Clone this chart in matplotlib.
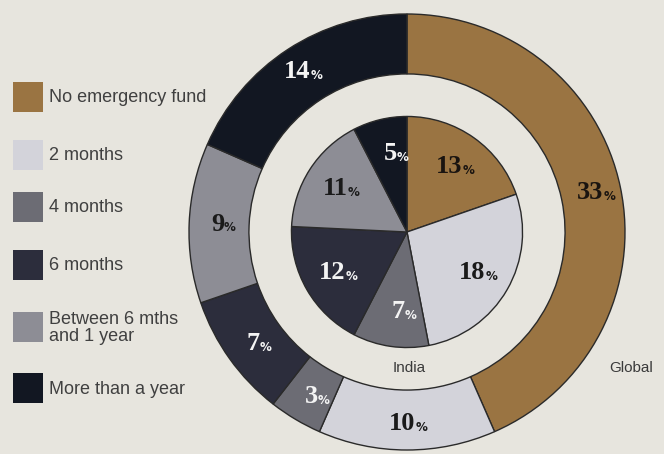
import matplotlib
matplotlib.use("Agg")
import matplotlib.pyplot as plt
import numpy as np
from matplotlib.patches import Rectangle

categories = ["No emergency fund", "2 months", "4 months", "6 months",
              "Between 6 mths\nand 1 year", "More than a year"]
global_vals = [33, 10, 3, 7, 9, 14]
india_vals = [13, 18, 7, 12, 11, 5]
colors = ["#9a7442", "#d3d3da", "#6c6c74", "#2c2d3c", "#8d8d95", "#121722"]
global_txt = ["#1a1410", "#1a1a1a", "#f4f4f4", "#f4f4f4", "#1a1a1a", "#f4f4f4"]
india_txt = ["#1a1410", "#1a1a1a", "#f4f4f4", "#f4f4f4", "#1a1a1a", "#f4f4f4"]

BG = "#e7e5de"
fig = plt.figure(figsize=(6.64, 4.54), dpi=100, facecolor=BG)
ax = fig.add_axes([0, 0, 1, 1])
ax.set_facecolor(BG)
R = 218.0

edge = dict(edgecolor="#2a2a2a", linewidth=1.0)
wo, _ = ax.pie(global_vals, colors=colors, radius=1.0, startangle=90,
               counterclock=False, wedgeprops=dict(width=0.275, **edge))
wi, _ = ax.pie(india_vals, colors=colors, radius=0.53, startangle=90,
               counterclock=False, wedgeprops=edge)
ax.set_aspect("auto")
ax.set_xlim(-407 / R, (664 - 407) / R)
ax.set_ylim(-(454 - 232) / R, 232 / R)
ax.axis("off")


def put_label(w, r, val, col, fs):
    ang = np.deg2rad((w.theta1 + w.theta2) / 2)
    x, y = r * np.cos(ang), r * np.sin(ang)
    ax.text(x + 0.04, y, f"{val}", ha="right", va="center", fontsize=fs,
            fontweight="bold", family="Liberation Serif", color=col)
    ax.text(x + 0.04, y - 0.018, "%", ha="left", va="center", fontsize=fs * 0.45,
            fontweight="bold", family="DejaVu Sans", color=col)


for w, v, c in zip(wo, global_vals, global_txt):
    put_label(w, 0.88, v, c, 19)
for w, v, c in zip(wi, india_vals, india_txt):
    put_label(w, 0.37, v, c, 19)

ax.text(0.01, -0.625, "India", ha="center", va="center", fontsize=11,
        color="#3a3a3a", family="Liberation Sans")
ax.text(1.03, -0.625, "Global", ha="center", va="center", fontsize=11,
        color="#3a3a3a", family="Liberation Sans")

# legend
W, H = 664.0, 454.0
row_y = [97, 155, 207, 265, 327, 388]
for i, (lab, c) in enumerate(zip(categories, colors)):
    yc = row_y[i]
    fig.patches.append(Rectangle((13 / W, 1 - (yc + 15) / H), 30 / W, 30 / H,
                                 transform=fig.transFigure, facecolor=c,
                                 edgecolor="none"))
    fig.text(49 / W, 1 - (yc + 1) / H, lab, ha="left", va="center", fontsize=13,
             color="#404040", family="Liberation Sans", linespacing=0.95)

fig.savefig("out.png", dpi=100, facecolor=BG)
